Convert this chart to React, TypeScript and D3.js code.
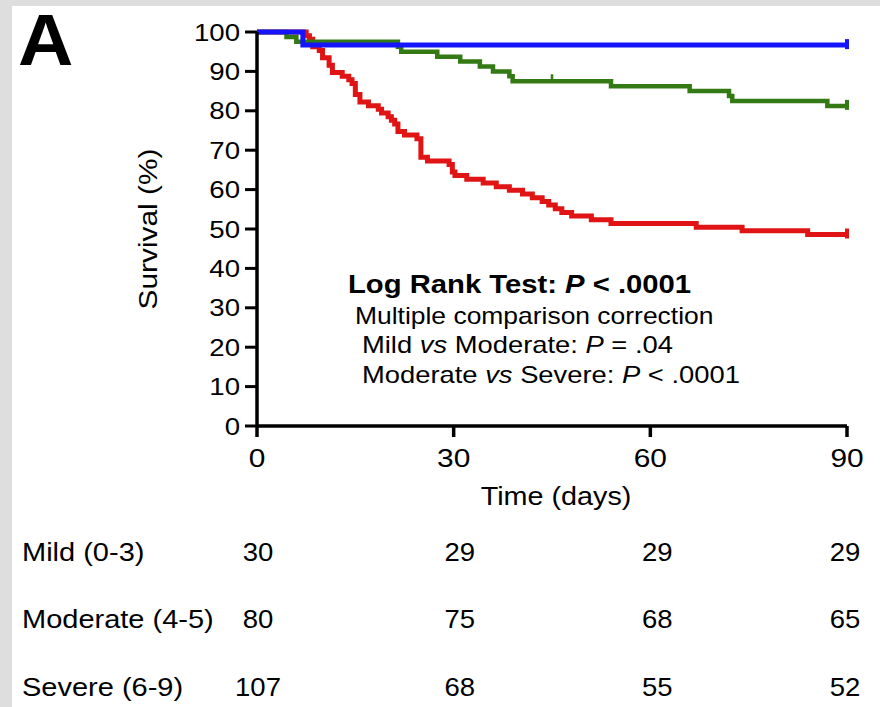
import React from "react";
import * as d3 from "d3";

// ---- Data ----
const groups = ["Mild (0-3)", "Moderate (4-5)", "Severe (6-9)"];
const groupColors = ["#1414ff", "#347a14", "#e01414"];

// Kaplan-Meier step points [day, survival %]
const mildCurve: [number, number][] = [
  [0, 100], [7, 96.67], [90, 96.67],
];
const moderateCurve: [number, number][] = [
  [0, 100], [4.5, 98.75], [6, 97.5], [21.5, 96.25], [22, 95], [27.5, 93.75],
  [31, 92.5], [34, 91.25], [36, 90], [38.5, 88.75], [39, 87.5], [54, 86.25],
  [66, 85], [72, 83.75], [72.5, 82.5], [87, 81.25], [90, 81.25],
];
const severeCurve: [number, number][] = [
  [0, 100], [7.5, 99.07], [8, 98.13], [8.5, 96.26], [9.5, 95.33], [10, 93.46],
  [11, 91.59], [11.5, 89.72], [13, 88.79], [14, 87.85], [14.5, 86.92], [15, 84.11],
  [15.7, 82.24], [17, 81.31], [18.5, 80.37], [19, 79.44], [20, 78.5], [20.5, 77.57],
  [21, 76.64], [21.5, 74.77], [22.5, 73.83], [24.4, 72.9], [25, 68.22], [26, 67.29],
  [29.3, 66.36], [29.8, 64.49], [30.2, 63.55], [32, 62.62], [34.5, 61.68],
  [36.5, 60.75], [38.5, 59.81], [40.5, 58.88], [42, 57.94], [43.5, 57.01],
  [44.5, 56.07], [45.5, 55.14], [46.5, 54.21], [48, 53.27], [51, 52.34],
  [54, 51.4], [67, 50.47], [74, 49.53], [84, 48.6], [90, 48.6],
];
const curves = [mildCurve, moderateCurve, severeCurve];
// censor marks [groupIndex, day]
const censorMarks: [number, number][] = [[0, 90], [1, 45], [1, 90], [2, 90]];

const xTicks = [0, 30, 60, 90];
const yTicks = [0, 10, 20, 30, 40, 50, 60, 70, 80, 90, 100];
const atRiskDays = [0, 30, 60, 90];
const atRisk = [
  [30, 29, 29, 29],
  [80, 75, 68, 65],
  [107, 68, 55, 52],
];

const annotationLines = [
  "Log Rank Test:",
  "Multiple comparison correction",
];

const SX = 1.15;
const FONT = "'Liberation Sans', Arial, Helvetica, sans-serif";

function T(props: {
  x: number; y: number; size: number; anchor?: string; weight?: string;
  rotate?: number; children: React.ReactNode; baseline?: string; sx?: number;
}) {
  const { x, y, size, anchor = "start", weight = "normal", rotate = 0, children, baseline, sx = SX } = props;
  return (
    <text
      transform={`translate(${x},${y}) rotate(${rotate}) scale(${sx},1)`}
      fontSize={size}
      fontWeight={weight}
      textAnchor={anchor}
      dominantBaseline={baseline}
      fontFamily={FONT}
      fill="#000"
    >
      {children}
    </text>
  );
}

export default function App() {
  const W = 880, H = 707;
  const x = d3.scaleLinear().domain([0, 90]).range([257, 847]);
  const y = d3.scaleLinear().domain([0, 100]).range([426, 32]);
  const line = d3.line<[number, number]>()
    .x((d) => x(d[0]))
    .y((d) => y(d[1]))
    .curve(d3.curveStepAfter);

  const rowBaselines = [561, 628, 696];
  const colOffsets = [1, 6, 7, -2];
  const drawOrder = [2, 1, 0];
  const strokeWidths = [5, 4.5, 5];

  return (
    <svg width={W} height={H} style={{ position: "absolute", left: 0, top: 0 }}>
      <rect x={0} y={0} width={W} height={H} fill="#dedede" />
      <rect x={12} y={6} width={W - 12} height={H - 6} fill="#ffffff" />

      <T x={18} y={65} size={73} weight="bold" sx={1.05}>A</T>

      {/* curves */}
      {drawOrder.map((gi) => (
        <path key={gi} d={line(curves[gi]) || ""} fill="none" stroke={groupColors[gi]}
          strokeWidth={strokeWidths[gi]} strokeLinejoin="miter" />
      ))}
      {censorMarks.map(([gi, day], i) => {
        const c = curves[gi];
        let v = c[0][1];
        for (const p of c) if (p[0] <= day) v = p[1];
        const isEnd = day === 90;
        return (
          <line key={i} x1={x(day)} x2={x(day)}
            y1={y(v) - (isEnd ? 6 : 7)} y2={y(v) + (isEnd ? 4 : 0)}
            stroke={groupColors[gi]} strokeWidth={isEnd ? 4 : 2.5} />
        );
      })}

      {/* axes */}
      <line x1={x(0)} x2={x(0)} y1={y(0)} y2={y(100)} stroke="#000" strokeWidth={3.5} />
      <line x1={x(0)} x2={x(90)} y1={y(0)} y2={y(0)} stroke="#000" strokeWidth={3.5} />
      {yTicks.map((t) => (
        <g key={t}>
          <line x1={x(0) - 12} x2={x(0)} y1={y(t)} y2={y(t)} stroke="#000" strokeWidth={3} />
          <T x={x(0) - 17} y={y(t) + 8.5} size={24} anchor="end">{t}</T>
        </g>
      ))}
      {xTicks.map((t) => (
        <g key={t}>
          <line x1={x(t)} x2={x(t)} y1={y(0)} y2={y(0) + 11} stroke="#000" strokeWidth={3.5} />
          <T x={x(t)} y={467} size={26} anchor="middle">{t}</T>
        </g>
      ))}
      <T x={556} y={505} size={25} anchor="middle">Time (days)</T>
      <T x={157} y={229} size={26} anchor="middle" rotate={-90}>Survival (%)</T>

      {/* annotation */}
      <text transform="translate(348,293) scale(1.17,1)" fontSize={25} fontWeight="bold" fontFamily={FONT}>
        {annotationLines[0]} <tspan fontStyle="italic">P</tspan> &lt; .0001
      </text>
      <T x={355} y={324} size={23}>{annotationLines[1]}</T>
      <text transform="translate(362,353) scale(1.19,1)" fontSize={23} fontFamily={FONT}>
        Mild <tspan fontStyle="italic">vs</tspan> Moderate: <tspan fontStyle="italic">P</tspan> = .04
      </text>
      <text transform="translate(362,383) scale(1.19,1)" fontSize={23} fontFamily={FONT}>
        Moderate <tspan fontStyle="italic">vs</tspan> Severe: <tspan fontStyle="italic">P</tspan> &lt; .0001
      </text>

      {/* number at risk table */}
      {groups.map((g, gi) => (
        <g key={g}>
          <T x={22} y={rowBaselines[gi]} size={25} sx={1.16}>{g}</T>
          {atRiskDays.map((d, di) => (
            <T key={d} x={x(d) + colOffsets[di]} y={rowBaselines[gi]} size={25} sx={1.1} anchor="middle">
              {atRisk[gi][di]}
            </T>
          ))}
        </g>
      ))}
    </svg>
  );
}
